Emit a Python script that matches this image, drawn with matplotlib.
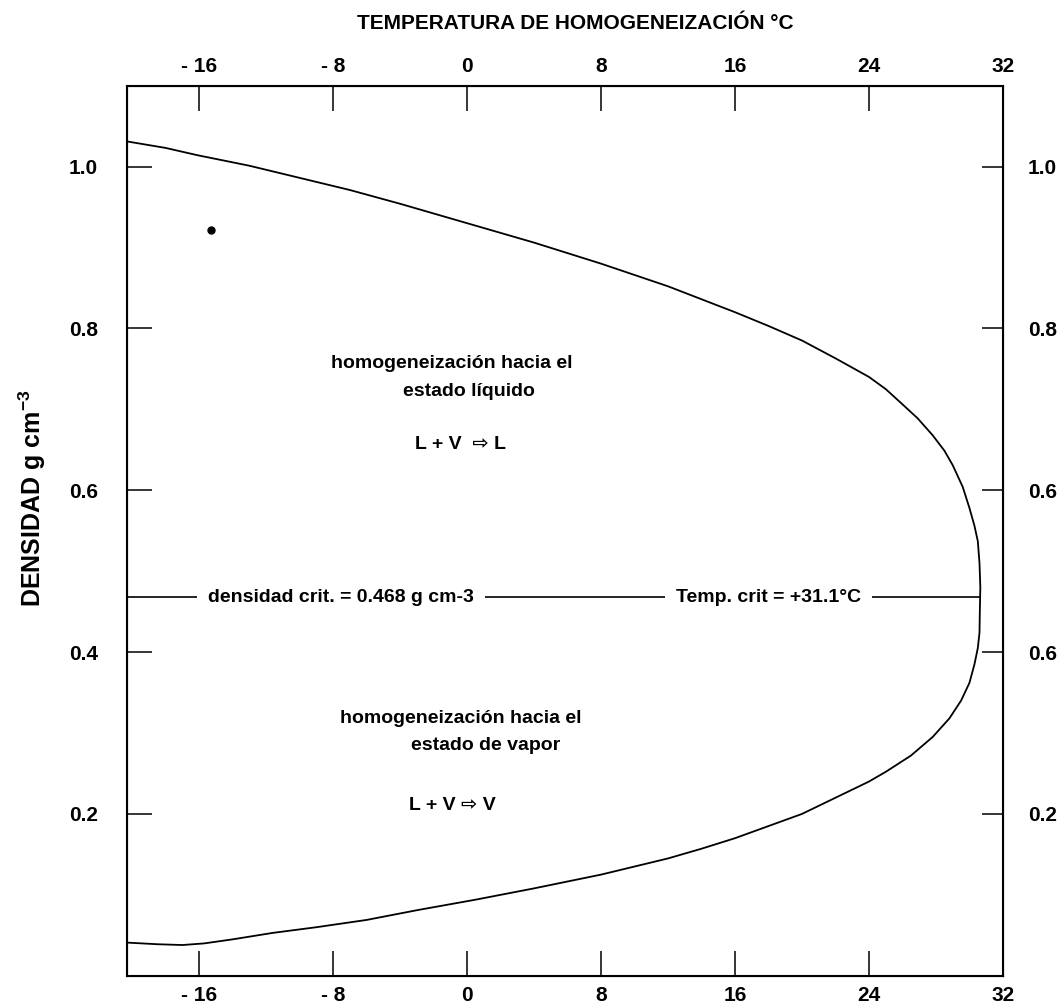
import matplotlib
matplotlib.use("Agg")
import matplotlib.pyplot as plt
from matplotlib import font_manager

# curva de coexistencia L-V del CO2
temp_liq = [-20.3, -18, -16.1, -13, -10.4, -7, -4.0, -2, 0, 4, 8, 12, 16, 18, 20, 22, 24,
            25, 25.85, 26.9, 27.8, 28.5, 29.0, 29.6, 30.0, 30.3, 30.5, 30.6, 30.65]
dens_liq = [1.031, 1.023, 1.014, 1.001, 0.988, 0.971, 0.954, 0.942, 0.930, 0.906, 0.880,
            0.852, 0.820, 0.803, 0.785, 0.763, 0.740, 0.725, 0.709, 0.689, 0.668, 0.649,
            0.631, 0.604, 0.578, 0.556, 0.537, 0.510, 0.480]
temp_vap = [30.62, 30.6, 30.5, 30.3, 30.0, 29.5, 28.8, 27.8, 26.5, 25, 24, 22, 20, 18, 16,
            14, 12, 10, 8, 4, 0.5, -3, -6, -9, -11.6, -14, -15.7, -17, -18.5, -20.3]
dens_vap = [0.450, 0.424, 0.405, 0.385, 0.362, 0.340, 0.318, 0.295, 0.272, 0.252, 0.240,
            0.220, 0.200, 0.185, 0.170, 0.157, 0.145, 0.135, 0.125, 0.108, 0.094, 0.081,
            0.069, 0.060, 0.053, 0.045, 0.040, 0.038, 0.039, 0.041]

punto_t = [-15.3]
punto_d = [0.922]

dens_crit = 0.468
x_ticks = [-16, -8, 0, 8, 16, 24, 32]
x_labels = ["- 16", "- 8", "0", "8", "16", "24", "32"]
y_ticks = [0.2, 0.4, 0.6, 0.8, 1.0]
y_labels = ["0.2", "0.4", "0.6", "0.8", "1.0"]
y_labels_der = ["0.2", "0.6", "0.6", "0.8", "1.0"]

names = {f.name for f in font_manager.fontManager.ttflist}
base = "Liberation Sans Narrow" if "Liberation Sans Narrow" in names else "Liberation Sans"
plt.rcParams["font.family"] = [base, "DejaVu Sans"]
plt.rcParams["font.weight"] = "bold"
plt.rcParams["mathtext.fontset"] = "custom"
plt.rcParams["mathtext.rm"] = base + ":bold"
plt.rcParams["mathtext.default"] = "rm"

fig = plt.figure(figsize=(10.63, 10.07), dpi=100)
ax = fig.add_axes([0.1195, 0.031, 0.824, 0.884])

ax.plot(temp_liq + temp_vap, dens_liq + dens_vap, color="black", lw=1.3)
ax.plot(punto_t, punto_d, "o", color="black", ms=5)
ax.plot([-20.3, 30.65], [dens_crit, dens_crit], color="black", lw=1.2)

ax.set_xlim(-20.3, 32)
ax.set_ylim(0.0, 1.10)

ax.set_xticks(x_ticks)
ax.set_xticklabels(x_labels)
ax.set_yticks(y_ticks)
ax.set_yticklabels(y_labels)
ax.tick_params(axis="x", direction="in", length=18, width=1.1, labelsize=15,
               top=True, labeltop=True, pad=7)
ax.tick_params(axis="y", direction="in", length=18, width=1.1, labelsize=15,
               right=False, pad=21)
for s in ax.spines.values():
    s.set_linewidth(1.5)

ax2 = ax.twinx()
ax2.set_ylim(0.0, 1.10)
ax2.set_yticks(y_ticks)
ax2.set_yticklabels(y_labels_der)
ax2.tick_params(axis="y", direction="in", length=15, width=1.1, labelsize=15, pad=18)

fig.text(0.541, 0.977, "TEMPERATURA DE HOMOGENEIZACIÓN °C", ha="center", va="center",
         fontsize=15, fontweight="bold")
fig.text(0.030, 0.505, "DENSIDAD g cm$^{-3}$", rotation=90, ha="center", va="center",
         fontsize=18, fontweight="bold")

fs = 14
box = dict(facecolor="white", edgecolor="none", pad=8)
ax.text(-0.9, 0.756, "homogeneización hacia el", ha="center", va="center", fontsize=fs)
ax.text(0.1, 0.722, "estado líquido", ha="center", va="center", fontsize=fs)
ax.text(-0.4, 0.657, "L + V  ⇨ L", ha="center", va="center", fontsize=fs)
ax.text(-7.5, dens_crit, "densidad crit. = 0.468 g cm-3", ha="center", va="center",
        fontsize=fs, bbox=box)
ax.text(18, dens_crit, "Temp. crit = +31.1°C", ha="center", va="center", fontsize=fs, bbox=box)
ax.text(-0.4, 0.318, "homogeneización hacia el", ha="center", va="center", fontsize=fs)
ax.text(1.1, 0.285, "estado de vapor", ha="center", va="center", fontsize=fs)
ax.text(-0.9, 0.210, "L + V ⇨ V", ha="center", va="center", fontsize=fs)

fig.savefig("out.png", dpi=100)
